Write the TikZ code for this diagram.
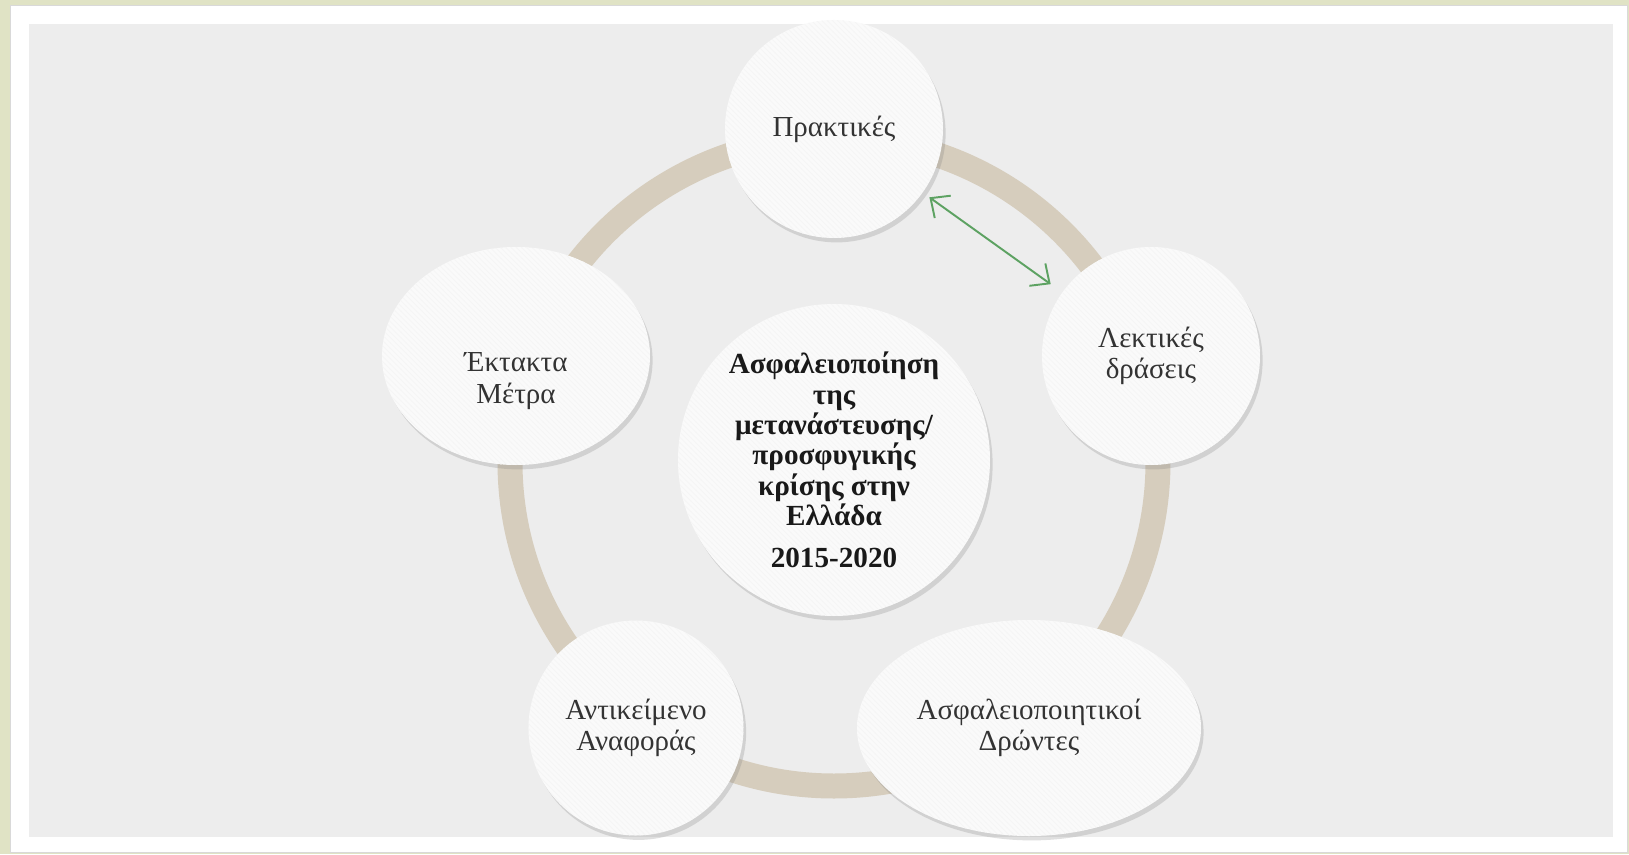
\documentclass[tikz,border=0pt]{standalone}
\usepackage{fontspec}
\setmainfont{Liberation Serif}
\usetikzlibrary{arrows.meta,shadows,patterns,shapes.geometric}

\definecolor{slidebg}{HTML}{E0E3C5}
\definecolor{panelgray}{HTML}{EDEDED}
\definecolor{ringtan}{HTML}{D6CDBD}
\definecolor{discwhite}{HTML}{FAFAFA}
\definecolor{txtgray}{HTML}{333333}
\definecolor{arrowgreen}{HTML}{5DA262}

\begin{document}
\begin{tikzpicture}[
    disc/.style={circle, fill=discwhite, drop shadow={shadow xshift=1.5pt, shadow yshift=-2.5pt, opacity=0.25},
        postaction={pattern=north west lines, pattern color=black!4},
        align=center, text=txtgray, inner sep=0pt, font=\fontsize{16.5}{17.8}\selectfont},
    oval/.style={disc, ellipse},
    core/.style={disc, text=black!90, font=\fontsize{16.6}{17.3}\selectfont\bfseries},
    ring/.style={draw=ringtan, line width=0.5cm},
    arrow/.style={{Straight Barb[length=3mm,width=5.5mm]}-{Straight Barb[length=3mm,width=5.5mm]}, draw=arrowgreen, line width=1.1pt}
]
\fill[slidebg] (-16.68,-7.84) rectangle (15.9,9.24);
\filldraw[fill=white, draw=black!15] (-16.48,-7.8) rectangle (15.86,9.14);
\fill[panelgray] (-16.1,-7.5) rectangle (15.58,8.76);

\draw[ring] (0,0) circle[radius=6.48cm];

\node[core, minimum size=6.24cm] (ctr) at (0,0.04) {Ασφαλειοποίηση\\της\\μετανάστευσης/\\προσφυγικής\\κρίσης στην\\Ελλάδα\\[6.5pt]2015-2020};

\node[disc, minimum size=4.36cm] (prak) at (0,6.66) {Πρακτικές};
\node[disc, minimum size=4.36cm] (lek) at (6.34,2.12) {Λεκτικές\\δράσεις};
\node[oval, minimum width=6.88cm, minimum height=4.32cm] (asf) at (3.9,-5.32) {Ασφαλειοποιητικοί\\Δρώντες};
\node[disc, minimum size=4.3cm] (ant) at (-3.96,-5.32) {Αντικείμενο\\Αναφοράς};
\node[oval, minimum width=5.36cm, minimum height=4.36cm,
    label={[align=center, text=txtgray, font=\fontsize{16.5}{17.8}\selectfont, yshift=-0.5cm]center:Έκτακτα\\Μέτρα}] (ekt) at (-6.36,2.12) {};

\draw[arrow, shorten <=0.16cm, shorten >=0.28cm] (prak) -- (lek);
\end{tikzpicture}
\end{document}
